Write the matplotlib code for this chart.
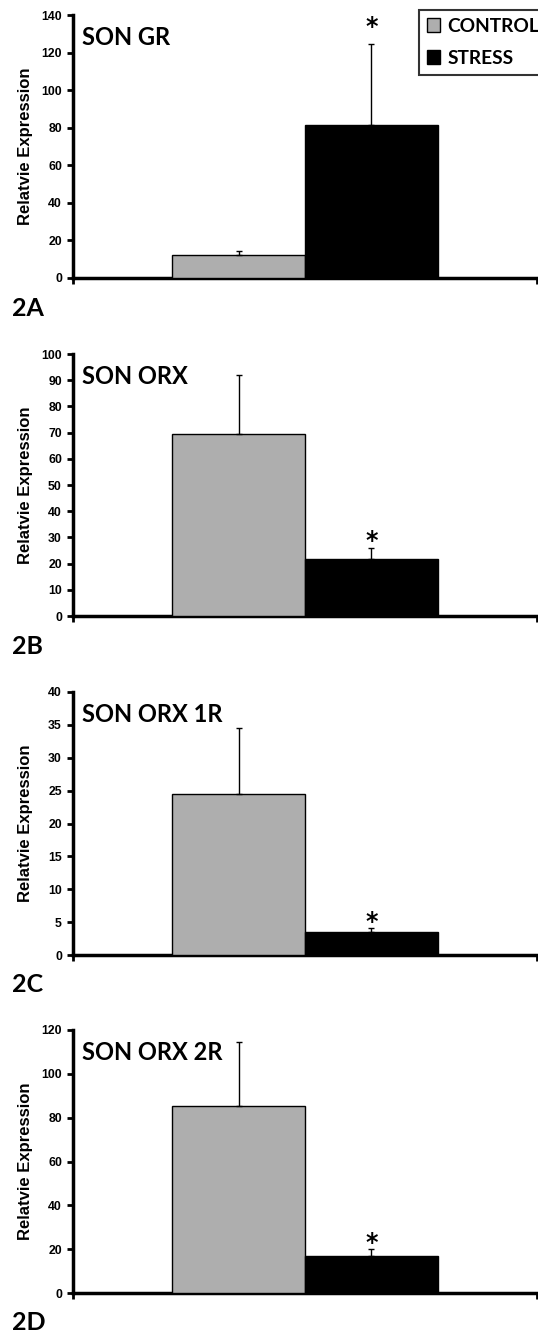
import numpy
import matplotlib
matplotlib.use('Agg')
import matplotlib.pyplot as pyplot
from matplotlib.patches import Patch

# values
genes = ['SON GR', 'SON ORX', 'SON ORX 1R', 'SON ORX 2R']
panel_tags = ['2A', '2B', '2C', '2D']
control_mean = [12.2, 69.3, 24.5, 85.1]
control_err = [2.3, 22.7, 10.0, 29.4]
stress_mean = [81.4, 21.9, 3.5, 17.0]
stress_err = [42.9, 4.1, 0.6, 3.1]
y_max = [140, 100, 40, 120]
y_step = [20, 10, 5, 20]

W, H = 538, 1334
fig = pyplot.figure(figsize=(W / 100, H / 100), dpi=100)

label_font = ['Lato', 'DejaVu Sans']
tick_font = ['Liberation Sans', 'DejaVu Sans']

# pixel boxes of each panel: (axis top, axis bottom, tag y)
boxes = [(15, 278, 308), (354, 616, 646), (692, 955, 984), (1030, 1293, 1322)]
star_gap = [4, -4, -4, -4]  # points between error bar top and asterisk
ax_left, ax_right = 73, 537

grey = '#aeaeae'

for i in range(4):
    top, bottom, tag_y = boxes[i]
    ax = fig.add_axes([ax_left / W, 1 - bottom / H, (ax_right - ax_left) / W, (bottom - top) / H])
    ax.bar([0], [control_mean[i]], width=1, color=grey, edgecolor='black', linewidth=1,
           yerr=[[0], [control_err[i]]], error_kw=dict(ecolor='black', elinewidth=1, capsize=2, capthick=1),
           zorder=3)
    ax.bar([1], [stress_mean[i]], width=1, color='black', edgecolor='black', linewidth=1,
           yerr=[[0], [stress_err[i]]], error_kw=dict(ecolor='black', elinewidth=1, capsize=2, capthick=1),
           zorder=3)
    ax.annotate('*', (1, stress_mean[i] + stress_err[i]), xytext=(0, star_gap[i]), textcoords='offset points',
                ha='center', va='bottom', fontsize=17, fontweight='bold', family=['DejaVu Sans'])

    ax.set_xlim(-1.25, 2.25)
    ax.set_ylim(0, y_max[i])
    ax.set_yticks(numpy.arange(0, y_max[i] + 1, y_step[i]))
    ax.set_xticks([-1.25, 2.25])
    ax.set_xticklabels([])
    ax.spines['top'].set_visible(False)
    ax.spines['right'].set_visible(False)
    ax.spines['left'].set_linewidth(2.5)
    ax.spines['bottom'].set_linewidth(2.5)
    ax.tick_params(axis='both', direction='out', length=4, width=2, pad=4)
    for lab in ax.get_yticklabels():
        lab.set_fontfamily(tick_font)
        lab.set_fontweight('bold')
        lab.set_fontsize(8.8)
    ax.set_ylabel('Relatvie Expression', fontsize=12, fontweight='bold', family=tick_font)
    ax.yaxis.set_label_coords(-0.086, 0.5)

    ax.text(0.02, 0.915, genes[i], transform=ax.transAxes, ha='left', va='center',
            fontsize=17, fontweight='bold', family=label_font)
    fig.text(12 / W, 1 - tag_y / H, panel_tags[i], ha='left', va='center',
             fontsize=18, fontweight='bold', family=label_font)

    if i == 0:
        handles = [Patch(facecolor=grey, edgecolor='black', linewidth=1, label='CONTROL'),
                   Patch(facecolor='black', edgecolor='black', linewidth=1, label='STRESS')]
        leg = ax.legend(handles=handles, loc='upper left',
                        bbox_to_anchor=((419 - ax_left) / (ax_right - ax_left), 1 + 5 / (bottom - top)),
                        borderaxespad=0, frameon=True, fancybox=False, edgecolor='black',
                        handlelength=0.72, handleheight=0.72, handletextpad=0.35, borderpad=0.4,
                        labelspacing=0.8,
                        prop={'family': label_font, 'weight': 'bold', 'size': 13.8})
        leg.get_frame().set_linewidth(1.5)

fig.savefig('out.png', dpi=100)
